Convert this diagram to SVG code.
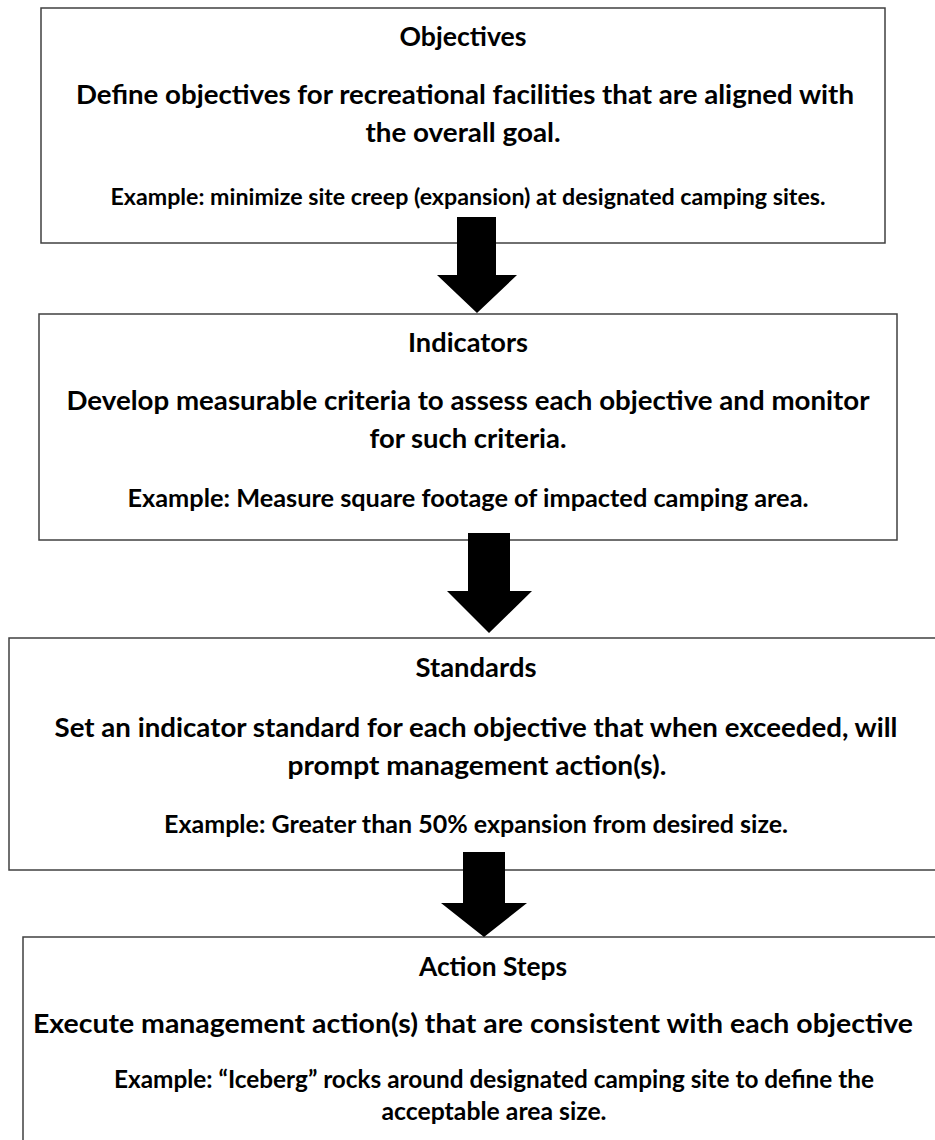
<svg xmlns="http://www.w3.org/2000/svg" width="935" height="1140" viewBox="0 0 935 1140">
<style>
.box{fill:#ffffff;stroke:#404040;stroke-width:1.5}
.t{font-family:Lato,"Liberation Sans",sans-serif;font-weight:bold;fill:#000;text-anchor:middle}
.h{font-size:26.5px}
.b{font-size:26.5px}
.e{font-size:24px}
.arrow{fill:#000}
</style>
<rect width="935" height="1140" fill="#fff"/>
<g id="node-objectives">
<rect class="box" x="41" y="8" width="844" height="235"/>
<text class="t h" x="463" y="46" textLength="127" lengthAdjust="spacingAndGlyphs">Objectives</text>
<text class="t b" x="465" y="104" textLength="778" lengthAdjust="spacingAndGlyphs">Define objectives for recreational facilities that are aligned with</text>
<text class="t b" x="463" y="142" textLength="195" lengthAdjust="spacingAndGlyphs">the overall goal.</text>
<text class="t e" x="468" y="205" style="font-size:22px" textLength="715" lengthAdjust="spacingAndGlyphs">Example: minimize site creep (expansion) at designated camping sites.</text>
</g>
<g id="node-indicators">
<rect class="box" x="39" y="314" width="858" height="226"/>
<text class="t h" x="468" y="352" textLength="120" lengthAdjust="spacingAndGlyphs">Indicators</text>
<text class="t b" x="468" y="410" textLength="803" lengthAdjust="spacingAndGlyphs">Develop measurable criteria to assess each objective and monitor</text>
<text class="t b" x="468" y="448" textLength="197" lengthAdjust="spacingAndGlyphs">for such criteria.</text>
<text class="t e" x="468" y="507" textLength="681" lengthAdjust="spacingAndGlyphs">Example: Measure square footage of impacted camping area.</text>
</g>
<g id="node-standards">
<rect class="box" x="9" y="638" width="935" height="232"/>
<text class="t h" x="476" y="677" textLength="121" lengthAdjust="spacingAndGlyphs">Standards</text>
<text class="t b" x="476" y="737" textLength="843" lengthAdjust="spacingAndGlyphs">Set an indicator standard for each objective that when exceeded, will</text>
<text class="t b" x="477" y="775" textLength="379" lengthAdjust="spacingAndGlyphs">prompt management action(s).</text>
<text class="t e" x="476" y="833" textLength="624" lengthAdjust="spacingAndGlyphs">Example: Greater than 50% expansion from desired size.</text>
</g>
<g id="node-action-steps">
<rect class="box" x="23" y="937" width="945" height="230"/>
<text class="t h" x="493" y="976" textLength="148" lengthAdjust="spacingAndGlyphs">Action Steps</text>
<text class="t b" x="473" y="1033" textLength="880" lengthAdjust="spacingAndGlyphs">Execute management action(s) that are consistent with each objective</text>
<text class="t e" x="494" y="1088" textLength="760" lengthAdjust="spacingAndGlyphs">Example: “Iceberg” rocks around designated camping site to define the</text>
<text class="t e" x="494" y="1120" textLength="225" lengthAdjust="spacingAndGlyphs">acceptable area size.</text>
</g>
<g id="connectors">
<polygon class="arrow" points="457,217 496,217 496,275 517,275 477,313 437,275 457,275"/>
<polygon class="arrow" points="468,533 510,533 510,591 532,591 489,633 447,591 468,591"/>
<polygon class="arrow" points="463,852 505,852 505,903 527,903 484,937 441,903 463,903"/>
</g>
</svg>
